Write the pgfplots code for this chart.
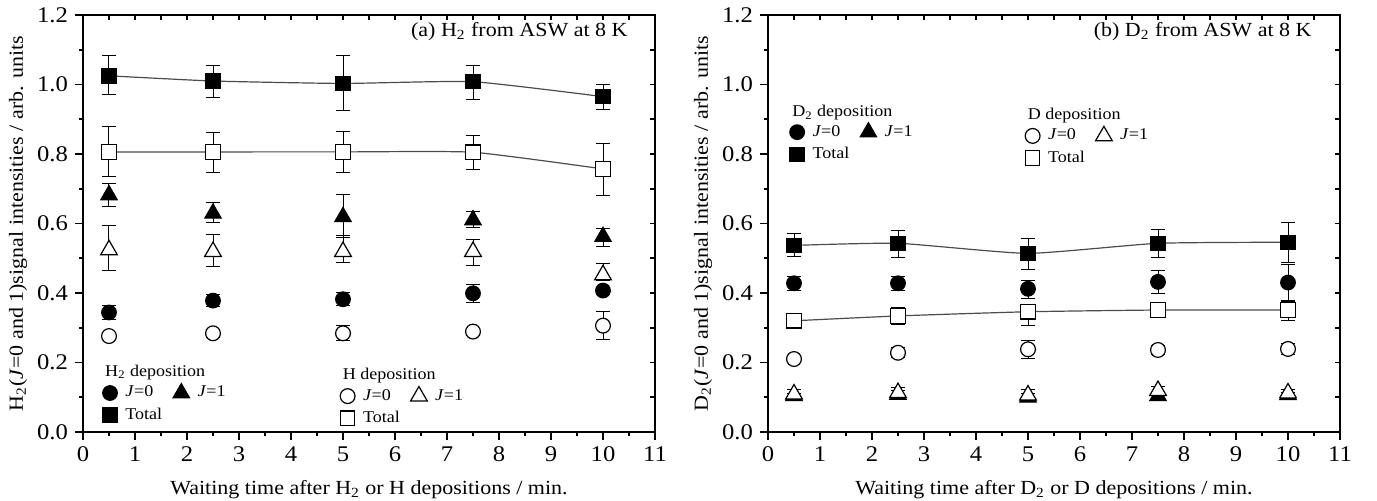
\documentclass[border=0pt]{standalone}
\usepackage{fontspec}
\setmainfont{Liberation Serif}[FakeStretch=1.1]
\usepackage{pgfplots}
\usepackage{pgfplotstable}
\pgfplotsset{compat=1.18}

% ---------- panel (a) ----------
\pgfplotstableread{
x y ep em
0.5 1.025 0.057 0.053
2.5 1.010 0.045 0.046
5 1.003 0.079 0.078
7.5 1.008 0.048 0.050
10 0.965 0.035 0.036
}\AtotF
\pgfplotstableread{
x y ep em
0.5 0.806 0.072 0.072
2.5 0.806 0.056 0.060
5 0.806 0.059 0.059
7.5 0.805 0.049 0.049
10 0.757 0.074 0.077
}\AtotO
\pgfplotstableread{
x y ep em
0.5 0.682 0.034 0.032
2.5 0.629 0.030 0.026
5 0.619 0.063 0.059
7.5 0.610 0.024 0.022
10 0.562 0.023 0.027
}\AoneF
\pgfplotstableread{
x y ep em
0.5 0.524 0.070 0.059
2.5 0.519 0.050 0.044
5 0.519 0.046 0.031
7.5 0.519 0.035 0.041
10 0.452 0.033 0.017
}\AoneO
\pgfplotstableread{
x y ep em
0.5 0.344 0.021 0.020
2.5 0.378 0.017 0.016
5 0.382 0.019 0.019
7.5 0.399 0.026 0.026
10 0.407 0.010 0.010
}\AzeroF
\pgfplotstableread{
x y ep em
0.5 0.276 0.010 0.010
2.5 0.284 0.012 0.012
5 0.284 0.022 0.021
7.5 0.289 0.010 0.010
10 0.306 0.041 0.039
}\AzeroO

% ---------- panel (b) ----------
\pgfplotstableread{
x y ep em
0.5 0.537 0.033 0.032
2.5 0.543 0.038 0.041
5 0.514 0.043 0.045
7.5 0.543 0.040 0.042
10 0.546 0.057 0.059
}\BtotF
\pgfplotstableread{
x y ep em
0.5 0.428 0.020 0.020
2.5 0.428 0.020 0.020
5 0.412 0.025 0.028
7.5 0.432 0.032 0.033
10 0.430 0.051 0.055
}\BzeroF
\pgfplotstableread{
x y ep em
0.5 0.320 0.010 0.010
2.5 0.334 0.025 0.024
5 0.346 0.019 0.040
7.5 0.351 0.012 0.012
10 0.351 0.027 0.031
}\BtotO
\pgfplotstableread{
x y ep em
0.5 0.210 0.010 0.010
2.5 0.228 0.015 0.015
5 0.238 0.024 0.026
7.5 0.236 0.012 0.012
10 0.239 0.017 0.017
}\BzeroO
\pgfplotstableread{
x y ep em
0.5 0.104 0.008 0.008
2.5 0.108 0.010 0.010
5 0.100 0.010 0.010
7.5 0.104 0.008 0.008
10 0.107 0.008 0.008
}\BoneF
\pgfplotstableread{
x y ep em
0.5 0.109 0.012 0.010
2.5 0.113 0.015 0.015
5 0.106 0.016 0.016
7.5 0.119 0.012 0.012
10 0.112 0.010 0.010
}\BoneO

\pgfplotsset{
  base/.style={
    scale only axis, width=286pt, height=208.5pt,
    xmin=0, xmax=11, ymin=0, ymax=1.2,
    xtick={0,1,2,3,4,5,6,7,8,9,10,11},
    ytick={0,0.2,0.4,0.6,0.8,1.0,1.2},
    minor x tick num=1, minor y tick num=1,
    axis line style={line width=1pt},
    tick style={line width=0.9pt, black},
  },
  leg/.style={
    legend columns=2, legend cell align=left,
    legend style={draw=none, fill=none, inner sep=0pt,
      font=\fontsize{8.2}{9}\selectfont, row sep=2pt,
      nodes={inner sep=1pt},
      /tikz/column 2/.style={column sep=0pt}},
  },
  main/.style={base,
    xtick pos=left, ytick pos=left, tick align=outside,
    major tick length=4pt, minor tick length=2pt,
    tick label style={font=\fontsize{11.2}{12}\selectfont},
    /pgf/number format/assume math mode=true,
    yticklabel style={/pgf/number format/fixed, /pgf/number format/fixed zerofill, /pgf/number format/precision=1},
    label style={font=\fontsize{12.5}{13}\selectfont},
    every axis y label/.style={at={(rel axis cs:0,0.5)}, xshift=-32.5pt, rotate=90, anchor=center},
    every axis x label/.style={at={(rel axis cs:0.5,0)}, yshift=-29pt, anchor=center},
    leg,
  },
  over/.style={base,
    xtick pos=right, ytick pos=right, tick align=inside,
    major tick length=2.5pt, minor tick length=2.5pt,
    xticklabels={}, yticklabels={},
    leg,
  },
  eb/.style={error bars/y dir=both, error bars/y explicit,
    error bars/error bar style={line width=0.5pt, black},
    error bars/error mark options={rotate=90, line width=0.5pt, black, mark size=3.6pt}},
  caps/.style={only marks, mark=*, mark size=0pt, mark options={draw opacity=0, fill opacity=0},
    error bars/y dir=both, error bars/y explicit,
    error bars/error bar style={draw opacity=0},
    error bars/error mark options={rotate=90, draw=black, draw opacity=1, fill opacity=0, line width=0.5pt, mark size=3.6pt}},
  fsq/.style={only marks, mark=square*, mark size=3.6pt, mark options={fill=black, draw=black, line width=0.5pt}},
  osq/.style={only marks, mark=square*, mark size=3.6pt, mark options={fill=white, draw=black, line width=0.6pt}},
  fci/.style={only marks, mark=*, mark size=3.7pt, mark options={fill=black, draw=black, line width=0.5pt}},
  oci/.style={only marks, mark=*, mark size=3.7pt, mark options={fill=white, draw=black, line width=0.6pt}},
  ftr/.style={only marks, mark=triangle*, mark size=4.8pt, mark options={fill=black, draw=black, line width=0.5pt}},
  otr/.style={only marks, mark=triangle*, mark size=4.8pt, mark options={fill=white, draw=black, line width=0.6pt}},
  conn/.style={no marks, smooth, tension=0.3, black!70, line width=0.6pt},
}

\begin{document}
\begin{tikzpicture}
\useasboundingbox (0,0) rectangle (688.5pt,250.5pt);

% ================= (a) =================
\begin{axis}[main, at={(41.5pt,34.5pt)}, anchor=south west,
  xlabel={Waiting time after H\textsubscript{2} or H depositions / min.},
  ylabel={H\textsubscript{2}(\textit{J}=0 and 1)signal intensities / arb. units},
  legend style={at={(axis description cs:0.0336,0.1175)}, anchor=north west}]
\addplot[conn, forget plot] table[x=x,y=y] {\AtotF};
\addplot[conn, forget plot] table[x=x,y=y] {\AtotO};
\addplot[oci, eb, forget plot] table[x=x,y=y,y error plus=ep,y error minus=em] {\AzeroO};
\addplot[caps, forget plot] table[x=x,y=y,y error plus=ep,y error minus=em] {\AzeroO};
\addplot[otr, eb, forget plot] table[x=x,y=y,y error plus=ep,y error minus=em] {\AoneO};
\addplot[fci, eb, forget plot] table[x=x,y=y,y error plus=ep,y error minus=em] {\AzeroF};
\addplot[ftr, eb, forget plot] table[x=x,y=y,y error plus=ep,y error minus=em] {\AoneF};
\addplot[osq, eb, forget plot] table[x=x,y=y,y error plus=ep,y error minus=em] {\AtotO};
\addplot[fsq, eb, forget plot] table[x=x,y=y,y error plus=ep,y error minus=em] {\AtotF};
\addlegendimage{fci}\addlegendentry{\hspace{3pt}\textit{J}=0}
\addlegendimage{ftr}\addlegendentry{\hspace{3pt}\textit{J}=1}
\addlegendimage{fsq}\addlegendentry{\hspace{3pt}Total}
\addlegendimage{empty legend}\addlegendentry{}
\node[anchor=west, inner sep=0pt, font=\fontsize{8.2}{9}\selectfont] at (axis cs:0.42,0.170) {H\textsubscript{2} deposition};
\node[anchor=west, inner sep=0pt, font=\fontsize{8.2}{9}\selectfont] at (axis cs:4.99,0.161) {H deposition};
\node[anchor=base east, inner sep=0pt, font=\fontsize{10}{12}\selectfont] at (axis cs:10.48,1.137) {(a) H\textsubscript{2} from ASW at 8 K};
\end{axis}
\begin{axis}[over, at={(41.5pt,34.5pt)}, anchor=south west,
  legend style={at={(axis description cs:0.449,0.110)}, anchor=north west}]
\addlegendimage{oci}\addlegendentry{\hspace{3pt}\textit{J}=0}
\addlegendimage{otr}\addlegendentry{\hspace{3pt}\textit{J}=1}
\addlegendimage{osq}\addlegendentry{\hspace{3pt}Total}
\addlegendimage{empty legend}\addlegendentry{}
\end{axis}

% ================= (b) =================
\begin{axis}[main, at={(384pt,34.5pt)}, anchor=south west,
  xlabel={Waiting time after D\textsubscript{2} or D depositions / min.},
  ylabel={D\textsubscript{2}(\textit{J}=0 and 1)signal intensities / arb. units},
  legend style={at={(axis description cs:0.0373,0.743)}, anchor=north west}]
\addplot[conn, forget plot] table[x=x,y=y] {\BtotF};
\addplot[conn, forget plot] table[x=x,y=y] {\BtotO};
\addplot[ftr, eb, forget plot] table[x=x,y=y,y error plus=ep,y error minus=em] {\BoneF};
\addplot[otr, eb, forget plot] table[x=x,y=y,y error plus=ep,y error minus=em] {\BoneO};
\addplot[oci, eb, forget plot] table[x=x,y=y,y error plus=ep,y error minus=em] {\BzeroO};
\addplot[caps, forget plot] table[x=x,y=y,y error plus=ep,y error minus=em] {\BzeroO};
\addplot[osq, eb, forget plot] table[x=x,y=y,y error plus=ep,y error minus=em] {\BtotO};
\addplot[caps, forget plot] table[x=x,y=y,y error plus=ep,y error minus=em] {\BtotO};
\addplot[fci, eb, forget plot] table[x=x,y=y,y error plus=ep,y error minus=em] {\BzeroF};
\addplot[fsq, eb, forget plot] table[x=x,y=y,y error plus=ep,y error minus=em] {\BtotF};
\addlegendimage{fci}\addlegendentry{\hspace{3pt}\textit{J}=0}
\addlegendimage{ftr}\addlegendentry{\hspace{3pt}\textit{J}=1}
\addlegendimage{fsq}\addlegendentry{\hspace{3pt}Total}
\addlegendimage{empty legend}\addlegendentry{}
\node[anchor=west, inner sep=0pt, font=\fontsize{8.2}{9}\selectfont] at (axis cs:0.46,0.918) {D\textsubscript{2} deposition};
\node[anchor=west, inner sep=0pt, font=\fontsize{8.2}{9}\selectfont] at (axis cs:4.99,0.912) {D deposition};
\node[anchor=base east, inner sep=0pt, font=\fontsize{10}{12}\selectfont] at (axis cs:10.46,1.137) {(b) D\textsubscript{2} from ASW at 8 K};
\end{axis}
\begin{axis}[over, at={(384pt,34.5pt)}, anchor=south west,
  legend style={at={(axis description cs:0.449,0.734)}, anchor=north west}]
\addlegendimage{oci}\addlegendentry{\hspace{3pt}\textit{J}=0}
\addlegendimage{otr}\addlegendentry{\hspace{3pt}\textit{J}=1}
\addlegendimage{osq}\addlegendentry{\hspace{3pt}Total}
\addlegendimage{empty legend}\addlegendentry{}
\end{axis}
\end{tikzpicture}
\end{document}
